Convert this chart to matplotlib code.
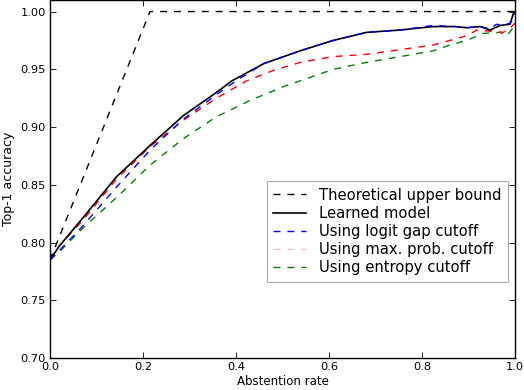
import matplotlib
matplotlib.use("Agg")
import matplotlib.pyplot as plt
from matplotlib.lines import Line2D

# Theoretical upper bound
ub_x = [0.0, 0.215, 1.0]
ub_y = [0.785, 1.0, 1.0]

# Learned model
lm_x = [0.0, 0.02, 0.072, 0.143, 0.215, 0.287, 0.358, 0.391, 0.46, 0.538, 0.609, 0.681,
        0.753, 0.824, 0.87, 0.896, 0.925, 0.946, 0.968, 0.989, 0.996, 1.0]
lm_y = [0.785, 0.797, 0.822, 0.857, 0.884, 0.910, 0.930, 0.940, 0.955, 0.966, 0.975, 0.982,
        0.984, 0.987, 0.987, 0.986, 0.987, 0.984, 0.988, 0.989, 0.998, 1.0]

# Using logit gap cutoff
lg_x = [0.0, 0.02, 0.072, 0.143, 0.215, 0.287, 0.358, 0.40, 0.46, 0.538, 0.609, 0.681,
        0.753, 0.824, 0.87, 0.896, 0.925, 0.946, 0.96, 0.975, 0.989, 0.996, 1.0]
lg_y = [0.785, 0.793, 0.815, 0.848, 0.880, 0.907, 0.928, 0.940, 0.955, 0.966, 0.975, 0.982,
        0.984, 0.988, 0.987, 0.986, 0.987, 0.985, 0.989, 0.988, 0.990, 0.993, 1.0]

# Using max. prob. cutoff
mp_x = [0.0, 0.02, 0.072, 0.143, 0.215, 0.287, 0.358, 0.423, 0.48, 0.538, 0.609, 0.681,
        0.753, 0.824, 0.86, 0.896, 0.918, 0.946, 0.975, 0.99, 1.0]
mp_y = [0.785, 0.797, 0.820, 0.855, 0.883, 0.906, 0.925, 0.940, 0.949, 0.956, 0.961, 0.963,
        0.967, 0.971, 0.975, 0.979, 0.984, 0.983, 0.982, 0.986, 0.990]

# Using entropy cutoff
en_x = [0.0, 0.02, 0.072, 0.143, 0.215, 0.287, 0.358, 0.430, 0.502, 0.538, 0.609, 0.681,
        0.753, 0.824, 0.86, 0.896, 0.931, 0.968, 0.982, 0.992, 1.0]
en_y = [0.785, 0.792, 0.813, 0.839, 0.867, 0.890, 0.909, 0.923, 0.935, 0.940, 0.950, 0.956,
        0.961, 0.966, 0.971, 0.975, 0.981, 0.982, 0.979, 0.984, 0.988]

x_ticks = [0.0, 0.2, 0.4, 0.6, 0.8, 1.0]
y_ticks = [0.70, 0.75, 0.80, 0.85, 0.90, 0.95, 1.00]

fig = plt.figure(figsize=(5.24, 3.9), dpi=100)
ax = fig.add_axes([0.0955, 0.082, 0.8875, 0.918])

ax.plot(ub_x, ub_y, color="black", ls="--", lw=1.0, dashes=(5, 5))
ax.plot(en_x, en_y, color="green", ls="--", lw=1.0, dashes=(5, 5))
ax.plot(mp_x, mp_y, color="red", ls="--", lw=1.0, dashes=(5, 5))
ax.plot(lm_x, lm_y, color="black", ls="-", lw=1.2)
ax.plot(lg_x, lg_y, color="blue", ls="--", lw=1.0, dashes=(5, 5))

ax.set_xlim(0.0, 1.0)
ax.set_ylim(0.70, 1.01)
ax.set_xticks(x_ticks)
ax.set_yticks(y_ticks)
ax.set_xticklabels([f"{v:.1f}" for v in x_ticks])
ax.set_yticklabels([f"{v:.2f}" for v in y_ticks])
ax.tick_params(direction="in", top=True, right=True, length=4, width=0.6,
               labelsize=8.2, pad=3)
for s in ax.spines.values():
    s.set_linewidth(1.0)

ax.set_xlabel("Abstention rate", fontsize=8.5, labelpad=2)
ax.set_ylabel("Top-1 accuracy", fontsize=9, labelpad=4)

handles = [
    Line2D([], [], color="black", ls="--", lw=1.0, dashes=(5, 5)),
    Line2D([], [], color="black", ls="-", lw=1.2),
    Line2D([], [], color="blue", ls="--", lw=1.0, dashes=(5, 5)),
    Line2D([], [], color="pink", ls="--", lw=1.0, dashes=(5, 5)),
    Line2D([], [], color="green", ls="--", lw=1.0, dashes=(5, 5)),
]
labels = ["Theoretical upper bound", "Learned model", "Using logit gap cutoff",
          "Using max. prob. cutoff", "Using entropy cutoff"]
leg = ax.legend(handles, labels, loc="lower right", bbox_to_anchor=(0.985, 0.212),
                borderaxespad=0.0,
                fontsize=10.6, frameon=True, fancybox=False, handlelength=2.2,
                borderpad=0.45, labelspacing=0.22, handletextpad=0.9)
leg.get_frame().set_edgecolor("0.6")
leg.get_frame().set_linewidth(0.8)

fig.savefig("out.png", dpi=100)
